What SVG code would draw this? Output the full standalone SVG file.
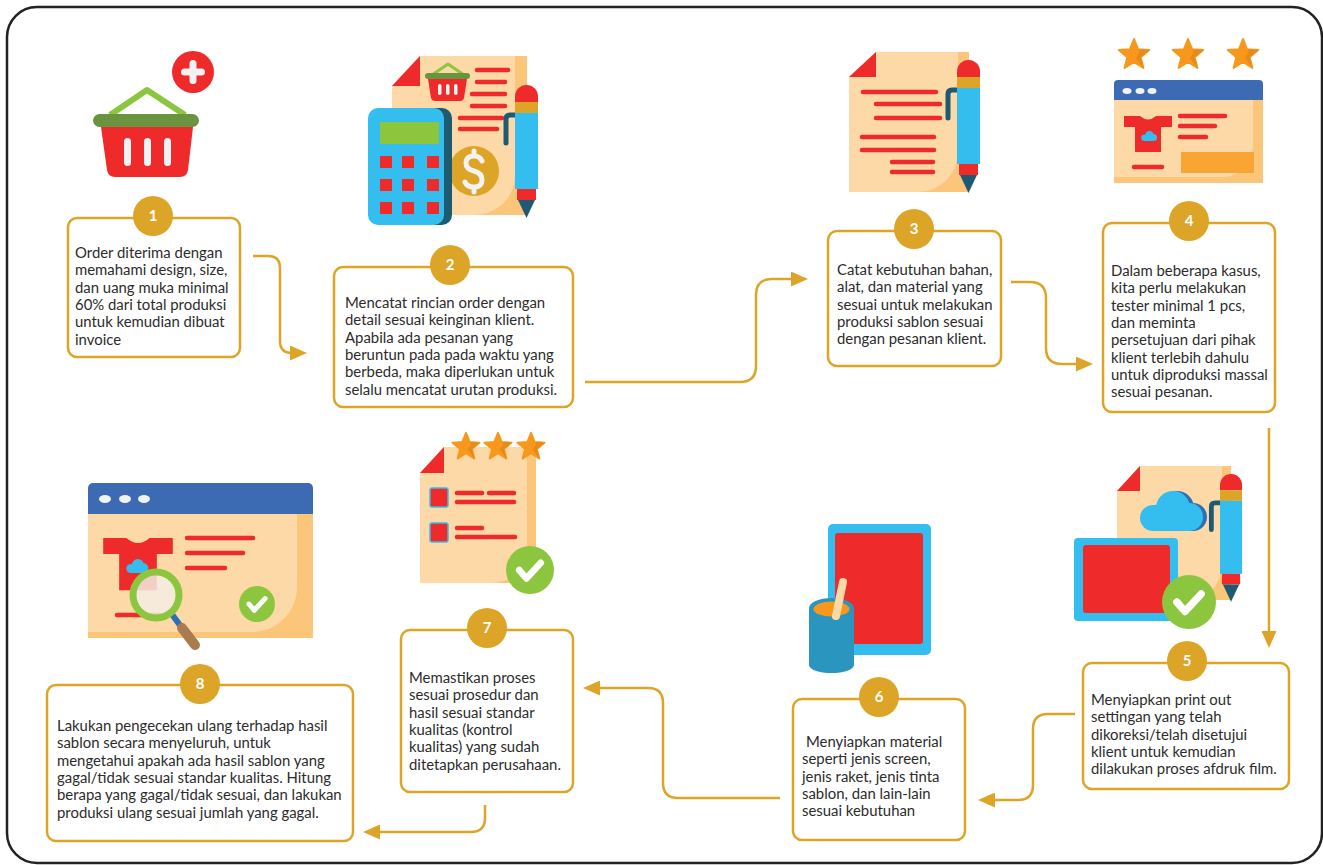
<svg xmlns="http://www.w3.org/2000/svg" xmlns:xlink="http://www.w3.org/1999/xlink" width="1323" height="865" viewBox="0 0 1323 865">
  <style>
    .box { fill: #ffffff; stroke: #DCA528; stroke-width: 2.5; }
    .badge { fill: #DCA528; }
    .num { font-family: Lato, "Liberation Sans", sans-serif; font-size: 15px; font-weight: bold; fill: #ffffff; text-anchor: middle; }
    .txt { font-family: Lato, "Liberation Sans", sans-serif; font-size: 14.9px; fill: #2b2b2b; }
    .conn { fill: none; stroke: #DCA528; stroke-width: 2.5; }
    .rl { stroke: #EE2A2A; stroke-width: 4.5; stroke-linecap: round; fill: none; }
    .red { fill: #EE2A2A; }
    .paper { fill: #FDD9A8; }
    .paperdk { fill: #FBC57A; }
    .blue { fill: #33BEEF; }
  </style>
  <defs>
    <marker id="arrow" viewBox="0 0 17 15" markerWidth="17" markerHeight="15" refX="13" refY="7.5" markerUnits="userSpaceOnUse" orient="auto">
      <path d="M0,0 L17,7.5 L0,15 Z" fill="#DCA528"/>
    </marker>
    <g id="star">
      <polygon points="0,-16 4.11,-5.66 15.22,-4.94 6.66,2.16 9.40,12.94 0,7 -9.40,12.94 -6.66,2.16 -15.22,-4.94 -4.11,-5.66" fill="#F7981D" stroke="#F7981D" stroke-width="2" stroke-linejoin="round"/>
      <polygon points="0,-16 4.11,-5.66 6,-4 2,3 9.40,12.94 6.66,2.16 15.22,-4.94 4.11,-5.66" fill="#E8891C"/>
    </g>
    <g id="check">
      <circle r="20" fill="#8CC63F"/>
      <polyline points="-9,0 -3,7 9,-6" fill="none" stroke="#ffffff" stroke-width="5.5" stroke-linecap="round" stroke-linejoin="round"/>
    </g>
    <g id="pen">
      <path d="M0,30 L-5,30 Q-9,30 -9,34 L-9,58" fill="none" stroke="#1E5B73" stroke-width="5" stroke-linecap="round"/>
      <path d="M0,11.5 A11.5,11.5 0 0 1 23,11.5 V17 H0 Z" fill="#EE2A2A"/>
      <rect x="0" y="17" width="23" height="11" fill="#DCA528"/>
      <rect x="0" y="28" width="23" height="76" fill="#33BEEF"/>
      <rect x="2" y="104" width="19" height="11" fill="#EE2A2A"/>
      <polygon points="3,115 20,115 11.5,133" fill="#1E5B73"/>
    </g>
    <g id="cloud">
      <circle cx="14" cy="27" r="13"/>
      <circle cx="34" cy="17" r="17"/>
      <circle cx="50" cy="26" r="14"/>
      <rect x="14" y="20" width="36" height="20"/>
    </g>
    <path id="shirt" d="M-24,0 H-8 Q0,7 8,0 H24 V11 H13 V36 H-13 V11 H-24 Z"/>
  </defs>

  <!-- outer frame -->
  <rect x="7" y="7" width="1315" height="856" rx="30" fill="#ffffff" stroke="#222222" stroke-width="2.5"/>

  <!-- connectors -->
  <g id="connectors">
    <path class="conn" marker-end="url(#arrow)" d="M253,256 H268 Q280,256 280,268 V341 Q280,353 292,353 H303"/>
    <path class="conn" marker-end="url(#arrow)" d="M585,382 H740 Q756,382 756,366 V295 Q756,279 772,279 H804"/>
    <path class="conn" marker-end="url(#arrow)" d="M1011,282 H1030 Q1046,282 1046,298 V348 Q1046,364 1062,364 H1089"/>
    <path class="conn" marker-end="url(#arrow)" d="M1269,428 V644"/>
    <path class="conn" marker-end="url(#arrow)" d="M1075,714 H1048 Q1033,714 1033,729 V785 Q1033,800 1018,800 H982"/>
    <path class="conn" marker-end="url(#arrow)" d="M780,798 H678 Q663,798 663,783 V703 Q663,688 648,688 H587"/>
    <path class="conn" marker-end="url(#arrow)" d="M485,805 V818 Q485,832 471,832 H367"/>
  </g>

  <!-- step 1: basket -->
  <g id="step1">
    <circle cx="193" cy="72" r="21" class="red"/>
    <rect x="181" y="68.5" width="24" height="7" rx="3.5" fill="#F2F2F2"/>
    <rect x="189.5" y="60" width="7" height="24" rx="3.5" fill="#F2F2F2"/>
    <path d="M110,115 L147,90 L185,115" fill="none" stroke="#8CC63F" stroke-width="6" stroke-linejoin="round"/>
    <path d="M101,127 H193 L188,170 Q187,177 180,177 H115 Q108,177 107,170 Z" class="red"/>
    <rect x="93" y="114" width="106" height="13" rx="6.5" fill="#6A9440"/>
    <rect x="124" y="138" width="7" height="28" rx="3.5" fill="#F2F2F2"/>
    <rect x="144" y="138" width="7" height="28" rx="3.5" fill="#F2F2F2"/>
    <rect x="164" y="138" width="7" height="28" rx="3.5" fill="#F2F2F2"/>
    <rect class="box" x="68" y="218" width="172" height="139" rx="9"/>
    <circle class="badge" cx="153" cy="216" r="20"/>
    <text class="num" x="153" y="221">1</text>
    <text class="txt">
      <tspan x="75" y="258">Order diterima dengan</tspan>
      <tspan x="75" y="275.3">memahami design, size,</tspan>
      <tspan x="75" y="292.6">dan uang muka minimal</tspan>
      <tspan x="75" y="309.9">60% dari total produksi</tspan>
      <tspan x="75" y="327.2">untuk kemudian dibuat</tspan>
      <tspan x="75" y="344.5">invoice</tspan>
    </text>
  </g>

  <!-- step 2: invoice, calculator, coin -->
  <g id="step2">
    <path d="M420,56 H527 V215 H392 V86 Z" class="paperdk"/>
    <path d="M420,56 H515 V175 A40,40 0 0 1 475,215 H392 V86 Z" class="paper"/>
    <polygon points="420,56 392,86 420,86" class="red"/>
    <path d="M432,75 L448,64 L464,75" fill="none" stroke="#8CC63F" stroke-width="3" stroke-linejoin="round"/>
    <path d="M428,79 H467 L464,98 Q463,101 460,101 H435 Q432,101 431,98 Z" class="red"/>
    <rect x="425" y="73" width="45" height="6" rx="3" fill="#6A9440"/>
    <rect x="438" y="84" width="3.5" height="11" rx="1.7" fill="#F2F2F2"/>
    <rect x="446" y="84" width="3.5" height="11" rx="1.7" fill="#F2F2F2"/>
    <rect x="454" y="84" width="3.5" height="11" rx="1.7" fill="#F2F2F2"/>
    <line class="rl" x1="477" y1="70" x2="508" y2="70"/>
    <line class="rl" x1="477" y1="82" x2="505" y2="82"/>
    <line class="rl" x1="472" y1="94" x2="505" y2="94"/>
    <line class="rl" x1="472" y1="106" x2="505" y2="106"/>
    <line class="rl" x1="460" y1="118" x2="502" y2="118"/>
    <line class="rl" x1="460" y1="129" x2="497" y2="129"/>
    <circle cx="474" cy="171" r="25" fill="#DCA528"/>
    <path d="M482,161 Q480,156 474,156 Q466,156 466,163 Q466,169 474,171 Q482,173 482,180 Q482,187 474,187 Q467,187 465,182 M474,151 V156 M474,187 V192" fill="none" stroke="#F2F2F2" stroke-width="5" stroke-linecap="round"/>
    <rect x="373" y="108" width="79" height="117" rx="10" fill="#1E5B73"/>
    <rect x="368" y="108" width="76" height="117" rx="10" class="blue"/>
    <rect x="380" y="122" width="59" height="22" fill="#8CC63F"/>
    <rect x="380" y="156" width="12" height="12" class="red"/>
    <rect x="402" y="156" width="12" height="12" class="red"/>
    <rect x="427" y="156" width="12" height="12" class="red"/>
    <rect x="380" y="179" width="12" height="12" class="red"/>
    <rect x="402" y="179" width="12" height="12" class="red"/>
    <rect x="427" y="179" width="12" height="12" class="red"/>
    <rect x="380" y="202" width="12" height="12" class="red"/>
    <rect x="402" y="202" width="12" height="12" class="red"/>
    <rect x="427" y="202" width="12" height="12" class="red"/>
    <use xlink:href="#pen" href="#pen" transform="translate(515,85)"/>
    <rect class="box" x="334" y="267" width="239" height="140" rx="9"/>
    <circle class="badge" cx="450" cy="265" r="20"/>
    <text class="num" x="450" y="270">2</text>
    <text class="txt">
      <tspan x="345" y="308">Mencatat rincian order dengan</tspan>
      <tspan x="345" y="325.3">detail sesuai keinginan klient.</tspan>
      <tspan x="345" y="342.6">Apabila ada pesanan yang</tspan>
      <tspan x="345" y="359.9">beruntun pada pada waktu yang</tspan>
      <tspan x="345" y="377.2">berbeda, maka diperlukan untuk</tspan>
      <tspan x="345" y="394.5">selalu mencatat urutan produksi.</tspan>
    </text>
  </g>

  <!-- step 3: notes and pen -->
  <g id="step3">
    <path d="M876,52 H969 V192 H849 V77 Z" class="paperdk"/>
    <path d="M876,52 H958 V152 A40,40 0 0 1 918,192 H849 V77 Z" class="paper"/>
    <polygon points="876,52 849,77 876,77" class="red"/>
    <line class="rl" x1="863" y1="92" x2="936" y2="92"/>
    <line class="rl" x1="876" y1="104" x2="940" y2="104"/>
    <line class="rl" x1="876" y1="118" x2="940" y2="118"/>
    <line class="rl" x1="862" y1="137" x2="934" y2="137"/>
    <line class="rl" x1="862" y1="150" x2="934" y2="150"/>
    <line class="rl" x1="892" y1="162" x2="933" y2="162"/>
    <line class="rl" x1="892" y1="172" x2="933" y2="172"/>
    <use xlink:href="#pen" href="#pen" transform="translate(957,60)"/>
    <rect class="box" x="828" y="231" width="173" height="135" rx="9"/>
    <circle class="badge" cx="914" cy="229" r="20"/>
    <text class="num" x="914" y="234">3</text>
    <text class="txt">
      <tspan x="837" y="275">Catat kebutuhan bahan,</tspan>
      <tspan x="837" y="292.3">alat, dan material yang</tspan>
      <tspan x="837" y="309.6">sesuai untuk melakukan</tspan>
      <tspan x="837" y="326.9">produksi sablon sesuai</tspan>
      <tspan x="837" y="344.2">dengan pesanan klient.</tspan>
    </text>
  </g>

  <!-- step 4: rated product page -->
  <g id="step4">
    <use xlink:href="#star" href="#star" transform="translate(1134,55)"/>
    <use xlink:href="#star" href="#star" transform="translate(1188,55)"/>
    <use xlink:href="#star" href="#star" transform="translate(1243,55)"/>
    <rect x="1114" y="80" width="149" height="26" rx="4" fill="#3D6BB3"/>
    <rect x="1114" y="100" width="149" height="83" class="paperdk"/>
    <path d="M1114,100 H1253 V147 A30,30 0 0 1 1223,177 H1114 Z" class="paper"/>
    <ellipse cx="1127" cy="91" rx="4.5" ry="3" fill="#F2F2F2"/>
    <ellipse cx="1140" cy="91" rx="4.5" ry="3" fill="#F2F2F2"/>
    <ellipse cx="1152" cy="91" rx="4.5" ry="3" fill="#F2F2F2"/>
    <use xlink:href="#shirt" href="#shirt" class="red" transform="translate(1148,116)"/>
    <use xlink:href="#cloud" href="#cloud" class="blue" transform="translate(1141,131) scale(0.25)"/>
    <line class="rl" x1="1180" y1="116" x2="1225" y2="116"/>
    <line class="rl" x1="1180" y1="126" x2="1215" y2="126"/>
    <line class="rl" x1="1180" y1="137" x2="1206" y2="137"/>
    <line class="rl" x1="1134" y1="167" x2="1162" y2="167"/>
    <rect x="1181" y="152" width="73" height="21" fill="#F9A533"/>
    <rect class="box" x="1103" y="223" width="172" height="189" rx="9"/>
    <circle class="badge" cx="1189" cy="221" r="20"/>
    <text class="num" x="1189" y="226">4</text>
    <text class="txt">
      <tspan x="1111" y="276">Dalam beberapa kasus,</tspan>
      <tspan x="1111" y="293.3">kita perlu melakukan</tspan>
      <tspan x="1111" y="310.6">tester minimal 1 pcs,</tspan>
      <tspan x="1111" y="327.9">dan meminta</tspan>
      <tspan x="1111" y="345.2">persetujuan dari pihak</tspan>
      <tspan x="1111" y="362.5">klient terlebih dahulu</tspan>
      <tspan x="1111" y="379.8">untuk diproduksi massal</tspan>
      <tspan x="1111" y="397.1">sesuai pesanan.</tspan>
    </text>
  </g>

  <!-- step 5: print out and film -->
  <g id="step5">
    <path d="M1140,466 H1231 V600 H1117 V491 Z" class="paperdk"/>
    <path d="M1140,466 H1222 V565 A35,35 0 0 1 1187,600 H1117 V491 Z" class="paper"/>
    <polygon points="1140,466 1117,491 1140,491" class="red"/>
    <use xlink:href="#cloud" href="#cloud" fill="#2F6EB5" transform="translate(1143,491)"/>
    <use xlink:href="#cloud" href="#cloud" class="blue" transform="translate(1139,491)"/>
    <use xlink:href="#pen" href="#pen" transform="translate(1220,474) scale(0.96)"/>
    <rect x="1074" y="538" width="104" height="83" rx="4" class="blue"/>
    <rect x="1083" y="545" width="87" height="68" rx="3" class="red"/>
    <use xlink:href="#check" href="#check" transform="translate(1189,602) scale(1.35)"/>
    <rect class="box" x="1083" y="663" width="206" height="126" rx="9"/>
    <circle class="badge" cx="1187" cy="661" r="20"/>
    <text class="num" x="1187" y="666">5</text>
    <text class="txt">
      <tspan x="1091" y="705">Menyiapkan print out</tspan>
      <tspan x="1091" y="722.3">settingan yang telah</tspan>
      <tspan x="1091" y="739.6">dikoreksi/telah disetujui</tspan>
      <tspan x="1091" y="756.9">klient untuk kemudian</tspan>
      <tspan x="1091" y="774.2">dilakukan proses afdruk film.</tspan>
    </text>
  </g>

  <!-- step 6: screen frame and ink -->
  <g id="step6">
    <rect x="828" y="524" width="103" height="131" rx="5" class="blue"/>
    <rect x="835" y="533" width="88" height="111" rx="3" class="red"/>
    <rect x="809" y="608" width="45" height="57" fill="#2A95BE"/>
    <ellipse cx="831.5" cy="665" rx="22.5" ry="8" fill="#2A95BE"/>
    <ellipse cx="831.5" cy="608" rx="22.5" ry="10" fill="#2A95BE"/>
    <ellipse cx="831.5" cy="609" rx="18" ry="7.5" fill="#F7981D"/>
    <line x1="843" y1="582" x2="836" y2="616" stroke="#FDD9A8" stroke-width="8" stroke-linecap="round"/>
    <rect class="box" x="793" y="699" width="172" height="141" rx="9"/>
    <circle class="badge" cx="879" cy="697" r="20"/>
    <text class="num" x="879" y="702">6</text>
    <text class="txt">
      <tspan x="806" y="747">Menyiapkan material</tspan>
      <tspan x="802" y="764.3">seperti jenis screen,</tspan>
      <tspan x="802" y="781.6">jenis raket, jenis tinta</tspan>
      <tspan x="802" y="798.9">sablon, dan lain-lain</tspan>
      <tspan x="802" y="816.2">sesuai kebutuhan</tspan>
    </text>
  </g>

  <!-- step 7: quality checklist -->
  <g id="step7">
    <path d="M444,447 H536 V583 H420 V473 Z" class="paperdk"/>
    <path d="M444,447 H527 V548 A35,35 0 0 1 492,583 H420 V473 Z" class="paper"/>
    <polygon points="444,447 420,473 444,473" class="red"/>
    <use xlink:href="#star" href="#star" transform="translate(466,447) scale(0.9)"/>
    <use xlink:href="#star" href="#star" transform="translate(498,447) scale(0.9)"/>
    <use xlink:href="#star" href="#star" transform="translate(531,447) scale(0.9)"/>
    <rect x="430" y="488" width="18" height="19" rx="2" class="red" stroke="#33BEEF" stroke-width="1.5"/>
    <rect x="430" y="523" width="18" height="19" rx="2" class="red" stroke="#33BEEF" stroke-width="1.5"/>
    <line class="rl" x1="457" y1="493" x2="482" y2="493"/>
    <line class="rl" x1="489" y1="493" x2="514" y2="493"/>
    <line class="rl" x1="457" y1="502" x2="514" y2="502"/>
    <line class="rl" x1="457" y1="528" x2="482" y2="528"/>
    <line class="rl" x1="457" y1="537" x2="515" y2="537"/>
    <use xlink:href="#check" href="#check" transform="translate(530,570) scale(1.2)"/>
    <rect class="box" x="401" y="630" width="172" height="162" rx="9"/>
    <circle class="badge" cx="487" cy="628" r="20"/>
    <text class="num" x="487" y="633">7</text>
    <text class="txt">
      <tspan x="409" y="683">Memastikan proses</tspan>
      <tspan x="409" y="700.3">sesuai prosedur dan</tspan>
      <tspan x="409" y="717.6">hasil sesuai standar</tspan>
      <tspan x="409" y="734.9">kualitas (kontrol</tspan>
      <tspan x="409" y="752.2">kualitas) yang sudah</tspan>
      <tspan x="409" y="769.5">ditetapkan perusahaan.</tspan>
    </text>
  </g>

  <!-- step 8: final inspection -->
  <g id="step8">
    <rect x="88" y="483" width="225" height="36" rx="5" fill="#3D6BB3"/>
    <rect x="88" y="514" width="225" height="124" class="paperdk"/>
    <path d="M88,514 H297 V587 A45,45 0 0 1 252,632 H88 Z" class="paper"/>
    <ellipse cx="105" cy="499" rx="6" ry="4" fill="#F2F2F2"/>
    <ellipse cx="125" cy="499" rx="6" ry="4" fill="#F2F2F2"/>
    <ellipse cx="144" cy="499" rx="6" ry="4" fill="#F2F2F2"/>
    <use xlink:href="#shirt" href="#shirt" class="red" transform="translate(138,538) scale(1.45)"/>
    <use xlink:href="#cloud" href="#cloud" class="blue" transform="translate(126,559) scale(0.35)"/>
    <line class="rl" x1="187" y1="538" x2="253" y2="538" stroke-width="6.5"/>
    <line class="rl" x1="187" y1="553" x2="243" y2="553" stroke-width="6.5"/>
    <line class="rl" x1="187" y1="568" x2="225" y2="568" stroke-width="6.5"/>
    <line class="rl" x1="117" y1="615" x2="160" y2="615" stroke-width="6.5"/>
    <line x1="171" y1="613" x2="182" y2="628" stroke="#2F6EB5" stroke-width="6"/>
    <line x1="182" y1="628" x2="195" y2="645" stroke="#A97C50" stroke-width="10" stroke-linecap="round"/>
    <circle cx="156" cy="595" r="23" fill="#F4ECE4" fill-opacity="0.85" stroke="#8CC63F" stroke-width="7"/>
    <use xlink:href="#check" href="#check" transform="translate(257,604) scale(0.9)"/>
    <rect class="box" x="47" y="685" width="306" height="156" rx="9"/>
    <circle class="badge" cx="200" cy="684" r="20"/>
    <text class="num" x="200" y="689">8</text>
    <text class="txt">
      <tspan x="57" y="731">Lakukan pengecekan ulang terhadap hasil</tspan>
      <tspan x="57" y="748.3">sablon secara menyeluruh, untuk</tspan>
      <tspan x="57" y="765.6">mengetahui apakah ada hasil sablon yang</tspan>
      <tspan x="57" y="782.9">gagal/tidak sesuai standar kualitas. Hitung</tspan>
      <tspan x="57" y="800.2">berapa yang gagal/tidak sesuai, dan lakukan</tspan>
      <tspan x="57" y="817.5">produksi ulang sesuai jumlah yang gagal.</tspan>
    </text>
  </g>
</svg>
